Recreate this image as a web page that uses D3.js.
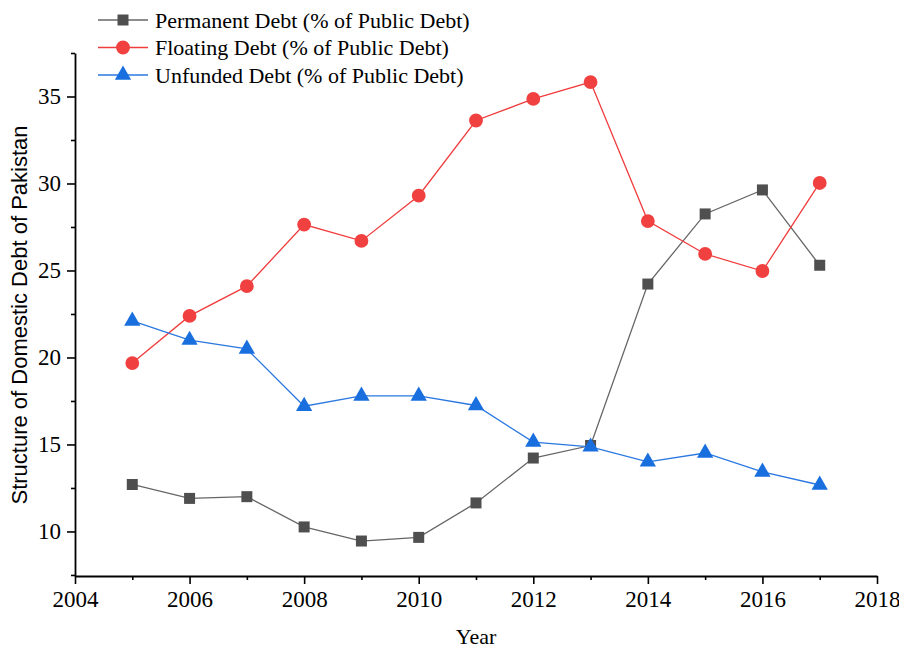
<!DOCTYPE html>
<html>
<head>
<meta charset="utf-8">
<script src="https://cdn.jsdelivr.net/npm/d3@7/dist/d3.min.js"></script>
<style>
  html, body { margin: 0; padding: 0; background: #fff; }
  svg { display: block; }
</style>
</head>
<body>
<svg id="chart" width="899" height="650"></svg>
<script>
// Structure of domestic debt of Pakistan, 2005–2017 (% of public debt)
const years = [2005, 2006, 2007, 2008, 2009, 2010, 2011, 2012, 2013, 2014, 2015, 2016, 2017];
const permanentDebt = [12.7, 11.9, 12.0, 10.26, 9.45, 9.66, 11.64, 14.22, 14.94, 24.22, 28.25, 29.63, 25.3];
const floatingDebt  = [19.68, 22.39, 24.1, 27.64, 26.7, 29.3, 33.62, 34.86, 35.83, 27.84, 25.95, 24.97, 30.03];
const unfundedDebt  = [22.1, 21.0, 20.49, 17.2, 17.79, 17.79, 17.24, 15.14, 14.86, 14.0, 14.51, 13.42, 12.67];
const seriesNames = [
  "Permanent Debt (% of Public Debt)",
  "Floating Debt (% of Public Debt)",
  "Unfunded Debt (% of Public Debt)"
];
const xTickValues = [2004, 2006, 2008, 2010, 2012, 2014, 2016, 2018];
const yTickValues = [10, 15, 20, 25, 30, 35];

const series = [
  { name: seriesNames[0], values: permanentDebt, line: "#666666", fill: "#4f4f4f", symbol: d3.symbolSquare, size: 121 },
  { name: seriesNames[1], values: floatingDebt,  line: "#f03c3c", fill: "#f04040", symbol: d3.symbolCircle, size: 150 },
  { name: seriesNames[2], values: unfundedDebt,  line: "#2a78e0", fill: "#1a6fdf", symbol: d3.symbolTriangle, size: 115 }
];

const svg = d3.select("#chart");
const plot = { left: 75, right: 877, top: 53, bottom: 576 };

const x = d3.scaleLinear().domain([2004, 2018]).range([plot.left, plot.right]);
const y = d3.scaleLinear().domain([7.44, 37.5]).range([plot.bottom, plot.top]);

const serif = "Liberation Serif, Times New Roman, serif";
const sans = "Liberation Sans, Arial, sans-serif";

// Minor ticks (odd years / half steps) drawn first, then major axes on top
const xMinor = d3.axisBottom(x).tickValues(d3.range(2005, 2018, 2)).tickSize(4).tickFormat("");
svg.append("g").attr("transform", `translate(0,${plot.bottom})`).call(xMinor)
  .call(g => g.select(".domain").remove())
  .call(g => g.selectAll("line").attr("stroke", "#000").attr("stroke-width", 1.6));

const yMinor = d3.axisLeft(y).tickValues([7.5, 12.5, 17.5, 22.5, 27.5, 32.5, 37.5]).tickSize(4).tickFormat("");
svg.append("g").attr("transform", `translate(${plot.left},0)`).call(yMinor)
  .call(g => g.select(".domain").remove())
  .call(g => g.selectAll("line").attr("stroke", "#000").attr("stroke-width", 1.6));

const xAxis = d3.axisBottom(x).tickValues(xTickValues).tickFormat(d3.format("d")).tickSize(8).tickPadding(7).tickSizeOuter(0);
svg.append("g").attr("transform", `translate(0,${plot.bottom})`).call(xAxis)
  .call(g => g.select(".domain").attr("stroke", "#000").attr("stroke-width", 1.8))
  .call(g => g.selectAll("line").attr("stroke", "#000").attr("stroke-width", 1.6))
  .call(g => g.selectAll("text").style("font-family", serif).attr("font-size", 23).attr("fill", "#000"));

const yAxis = d3.axisLeft(y).tickValues(yTickValues).tickFormat(d3.format("d")).tickSize(8).tickPadding(6).tickSizeOuter(0);
svg.append("g").attr("transform", `translate(${plot.left},0)`).call(yAxis)
  .call(g => g.select(".domain").attr("stroke", "#000").attr("stroke-width", 1.8))
  .call(g => g.selectAll("line").attr("stroke", "#000").attr("stroke-width", 1.6))
  .call(g => g.selectAll("text").style("font-family", serif).attr("font-size", 23).attr("fill", "#000"));

// Axis titles
svg.append("text")
  .attr("x", (plot.left + plot.right) / 2)
  .attr("y", 644)
  .attr("text-anchor", "middle")
  .style("font-family", serif)
  .attr("font-size", 22)
  .text("Year");

svg.append("text")
  .attr("transform", "translate(27,315) rotate(-90)")
  .attr("text-anchor", "middle")
  .style("font-family", sans)
  .attr("font-size", 22)
  .text("Structure of Domestic Debt of Pakistan");

// Series lines and markers
const line = d3.line().x((d, i) => x(years[i])).y(d => y(d));

series.forEach(s => {
  svg.append("path")
    .datum(s.values)
    .attr("d", line)
    .attr("fill", "none")
    .attr("stroke", s.line)
    .attr("stroke-width", 1.3);

  svg.append("g").selectAll("path")
    .data(s.values)
    .join("path")
    .attr("transform", (d, i) => `translate(${x(years[i])},${y(d)})`)
    .attr("d", d3.symbol().type(s.symbol).size(s.size))
    .attr("fill", s.fill);
});

// Legend
const legend = svg.append("g");
series.forEach((s, i) => {
  const ly = 20 + i * 27.5;
  legend.append("line")
    .attr("x1", 98).attr("x2", 148)
    .attr("y1", ly).attr("y2", ly)
    .attr("stroke", s.line).attr("stroke-width", 1.3);
  legend.append("path")
    .attr("transform", `translate(123,${ly})`)
    .attr("d", d3.symbol().type(s.symbol).size(s.size))
    .attr("fill", s.fill);
  legend.append("text")
    .attr("x", 155).attr("y", ly)
    .attr("dy", "0.35em")
    .style("font-family", serif)
    .attr("font-size", 22)
    .text(s.name);
});
</script>
</body>
</html>
